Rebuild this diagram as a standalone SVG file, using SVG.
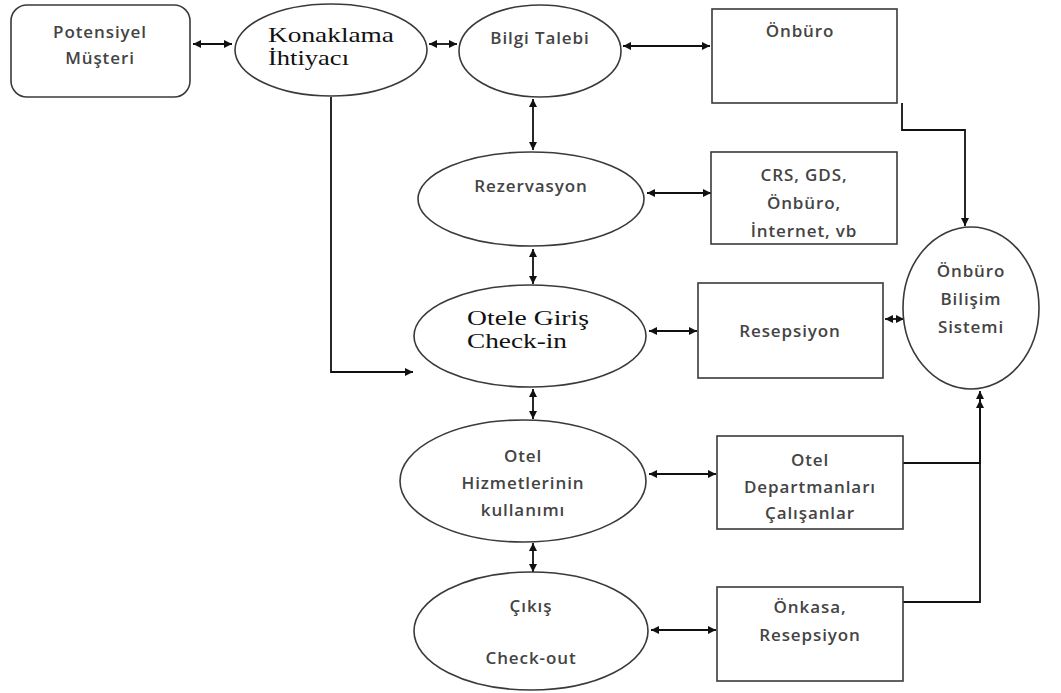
<svg xmlns="http://www.w3.org/2000/svg" width="1061" height="693" viewBox="0 0 1061 693">
<defs>
<style>
.n{fill:#fff;stroke:#3a3a3a;stroke-width:1.6}
.t{font-family:"Open Sans","Liberation Sans",sans-serif;font-size:17px;font-weight:600;fill:#444;text-anchor:middle;letter-spacing:0.9px}
.s{font-family:"Liberation Serif","Times New Roman",serif;font-size:21px;fill:#111}
.c{fill:none;stroke:#111;stroke-width:1.8}
</style>
<marker id="a" viewBox="0 0 10 10" refX="10" refY="5" markerWidth="9" markerHeight="8" markerUnits="userSpaceOnUse" orient="auto-start-reverse">
<path d="M0,0 L10,5 L0,10 z" fill="#111"/>
</marker>
</defs>
<rect width="1061" height="693" fill="#fff"/>
<g id="connectors">
<line class="c" x1="193" y1="44" x2="232" y2="44" marker-start="url(#a)" marker-end="url(#a)"/>
<line class="c" x1="429" y1="44" x2="457" y2="44" marker-start="url(#a)" marker-end="url(#a)"/>
<line class="c" x1="623" y1="46" x2="710" y2="46" marker-start="url(#a)" marker-end="url(#a)"/>
<polyline class="c" points="902,103 902,130 965,130 965,226" marker-end="url(#a)"/>
<line class="c" x1="533" y1="99" x2="533" y2="150" marker-start="url(#a)" marker-end="url(#a)"/>
<line class="c" x1="647" y1="193" x2="711" y2="193" marker-start="url(#a)" marker-end="url(#a)"/>
<line class="c" x1="533" y1="249" x2="533" y2="284" marker-start="url(#a)" marker-end="url(#a)"/>
<polyline class="c" points="331,97 331,372 413,372" marker-end="url(#a)"/>
<line class="c" x1="649" y1="331" x2="697" y2="331" marker-start="url(#a)" marker-end="url(#a)"/>
<line class="c" x1="885" y1="319" x2="904" y2="319" marker-start="url(#a)" marker-end="url(#a)"/>
<line class="c" x1="533" y1="389" x2="533" y2="419" marker-start="url(#a)" marker-end="url(#a)"/>
<line class="c" x1="649" y1="474" x2="716" y2="474" marker-start="url(#a)" marker-end="url(#a)"/>
<polyline class="c" points="903,463 980,463 980,391" marker-end="url(#a)"/>
<polyline class="c" points="903,602 980,602 980,400" marker-end="url(#a)"/>
<line class="c" x1="533" y1="543" x2="533" y2="572" marker-start="url(#a)" marker-end="url(#a)"/>
<line class="c" x1="651" y1="630" x2="716" y2="630" marker-start="url(#a)" marker-end="url(#a)"/>
</g>
<g id="potensiyel">
<rect class="n" x="11" y="5" width="179" height="92" rx="16"/>
<text class="t" x="100" y="38">Potensiyel</text>
<text class="t" x="100" y="64">Müşteri</text>
</g>
<g id="konaklama">
<ellipse class="n" cx="331" cy="50" rx="96" ry="46"/>
<text class="s" x="268" y="42" textLength="126" lengthAdjust="spacingAndGlyphs">Konaklama</text>
<text class="s" x="268" y="65" textLength="81" lengthAdjust="spacingAndGlyphs">İhtiyacı</text>
</g>
<g id="bilgi">
<ellipse class="n" cx="540" cy="51" rx="81" ry="46"/>
<text class="t" x="540" y="44">Bilgi Talebi</text>
</g>
<g id="onburo">
<rect class="n" x="712" y="9" width="185" height="94"/>
<text class="t" x="800" y="37">Önbüro</text>
</g>
<g id="rezervasyon">
<ellipse class="n" cx="531" cy="199" rx="113" ry="47"/>
<text class="t" x="531" y="192">Rezervasyon</text>
</g>
<g id="crs">
<rect class="n" x="711" y="152" width="186" height="92"/>
<text class="t" x="804" y="181">CRS, GDS,</text>
<text class="t" x="804" y="209">Önbüro,</text>
<text class="t" x="804" y="237">İnternet, vb</text>
</g>
<g id="otele">
<ellipse class="n" cx="530" cy="336" rx="116" ry="51"/>
<text class="s" x="467" y="325" textLength="122" lengthAdjust="spacingAndGlyphs">Otele Giriş</text>
<text class="s" x="467" y="348" textLength="100" lengthAdjust="spacingAndGlyphs">Check-in</text>
</g>
<g id="resepsiyon">
<rect class="n" x="698" y="283" width="185" height="95"/>
<text class="t" x="790" y="337">Resepsiyon</text>
</g>
<g id="bilisim">
<ellipse class="n" cx="971" cy="308" rx="68" ry="81"/>
<text class="t" x="971" y="277">Önbüro</text>
<text class="t" x="971" y="305">Bilişim</text>
<text class="t" x="971" y="333">Sistemi</text>
</g>
<g id="hizmet">
<ellipse class="n" cx="523" cy="481" rx="123" ry="61"/>
<text class="t" x="523" y="462">Otel</text>
<text class="t" x="523" y="489">Hizmetlerinin</text>
<text class="t" x="523" y="516">kullanımı</text>
</g>
<g id="departman">
<rect class="n" x="717" y="436" width="186" height="93"/>
<text class="t" x="810" y="466">Otel</text>
<text class="t" x="810" y="493">Departmanları</text>
<text class="t" x="810" y="519">Çalışanlar</text>
</g>
<g id="cikis">
<ellipse class="n" cx="531" cy="631" rx="117" ry="59"/>
<text class="t" x="531" y="612">Çıkış</text>
<text class="t" x="531" y="664">Check-out</text>
</g>
<g id="onkasa">
<rect class="n" x="717" y="587" width="186" height="94"/>
<text class="t" x="810" y="613">Önkasa,</text>
<text class="t" x="810" y="641">Resepsiyon</text>
</g>
</svg>
